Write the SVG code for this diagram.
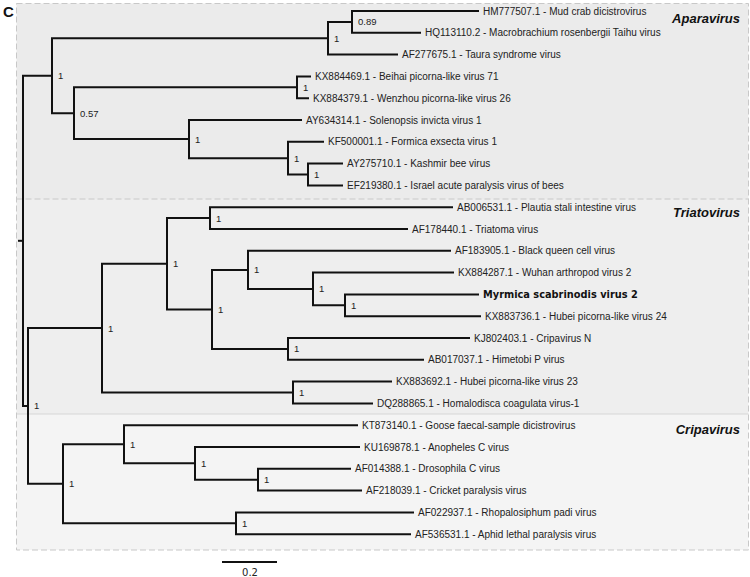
<svg xmlns="http://www.w3.org/2000/svg" width="750" height="577" viewBox="0 0 750 577">
<style>
.tip{font-family:"Liberation Sans",Arial,sans-serif;font-size:10px;fill:#222}
.bold{font-family:"DejaVu Sans",sans-serif;font-size:9.8px;font-weight:bold;fill:#111}
.sup{font-family:"Liberation Sans",Arial,sans-serif;font-size:9.5px;fill:#222}
.clade{font-family:"Liberation Sans",Arial,sans-serif;font-size:13px;font-weight:bold;font-style:italic;fill:#111;text-anchor:end}
.br{fill:none;stroke:#111;stroke-width:2;stroke-linecap:square;stroke-linejoin:miter}
</style>
<rect width="750" height="577" fill="#fff"/>
<g id="panels">
<rect x="16.5" y="3.5" width="732" height="195.5" fill="#ebebeb"/>
<rect x="16.5" y="199" width="732" height="215" fill="#eeeeee"/>
<rect x="16.5" y="414" width="732" height="136" fill="#f4f4f4"/>
<line x1="16.5" y1="199" x2="748.5" y2="199" stroke="#c8c8c8" stroke-dasharray="6 3"/>
<line x1="16.5" y1="414" x2="748.5" y2="414" stroke="#d6d6d6"/>
<rect x="16.5" y="3.5" width="732" height="546.5" fill="none" stroke="#c8c8c8" stroke-dasharray="6 3"/>
</g>
<text x="3" y="17" style="font-family:'Liberation Sans',Arial,sans-serif;font-size:15px;font-weight:bold;fill:#111">C</text>
<text class="clade" x="740" y="23">Aparavirus</text>
<text class="clade" x="740" y="217">Triatovirus</text>
<text class="clade" x="740" y="434">Cripavirus</text>
<g id="connectors" class="br">
<path class="br" d="M19 240.8 H23"/>
<path class="br" d="M52 75.7 H23 V405.95 H28"/>
<path class="br" d="M328 38.25 H52 V113.2 H74"/>
<path class="br" d="M352 21.9 H328 V54.6 H397"/>
<path class="br" d="M478 11 H352 V32.8 H420"/>
<path class="br" d="M297 87.3 H74 V139.1 H189"/>
<path class="br" d="M310 76.4 H297 V98.2 H308"/>
<path class="br" d="M301 120 H189 V158.15 H288"/>
<path class="br" d="M323 141.8 H288 V174.5 H308"/>
<path class="br" d="M342 163.6 H308 V185.4 H342"/>
<path class="br" d="M102 328.1 H28 V483.8 H63"/>
<path class="br" d="M167 263.75 H102 V392.5 H293"/>
<path class="br" d="M210 218.1 H167 V309.4 H212"/>
<path class="br" d="M452 207.2 H210 V229 H407"/>
<path class="br" d="M248 269.9 H212 V348.9 H288"/>
<path class="br" d="M450 250.8 H248 V288.95 H313"/>
<path class="br" d="M453 272.6 H313 V305.3 H345"/>
<path class="br" d="M478 294.4 H345 V316.2 H480"/>
<path class="br" d="M469 338 H288 V359.8 H423"/>
<path class="br" d="M391 381.6 H293 V403.4 H372"/>
<path class="br" d="M124 444.3 H63 V523.3 H236"/>
<path class="br" d="M357 425.2 H124 V463.35 H195"/>
<path class="br" d="M359 447 H195 V479.7 H258"/>
<path class="br" d="M350 468.8 H258 V490.6 H361"/>
<path class="br" d="M413 512.4 H236 V534.2 H410"/>
</g>
<g id="support">
<g id="n352"><text class="sup" x="358" y="25.4">0.89</text></g>
<g id="n328"><text class="sup" x="334" y="41.75">1</text></g>
<g id="n52"><text class="sup" x="58" y="79.2">1</text></g>
<g id="n74"><text class="sup" x="80" y="116.7">0.57</text></g>
<g id="n297"><text class="sup" x="303" y="90.8">1</text></g>
<g id="n189"><text class="sup" x="195" y="142.6">1</text></g>
<g id="n288a"><text class="sup" x="294" y="161.65">1</text></g>
<g id="n308"><text class="sup" x="314" y="178">1</text></g>
<g id="n210"><text class="sup" x="216" y="221.6">1</text></g>
<g id="n167"><text class="sup" x="173" y="267.25">1</text></g>
<g id="n248"><text class="sup" x="254" y="273.4">1</text></g>
<g id="n313"><text class="sup" x="319" y="292.45">1</text></g>
<g id="n345"><text class="sup" x="351" y="308.8">1</text></g>
<g id="n212"><text class="sup" x="218" y="312.9">1</text></g>
<g id="n288b"><text class="sup" x="294" y="352.4">1</text></g>
<g id="n102"><text class="sup" x="108" y="331.6">1</text></g>
<g id="n293"><text class="sup" x="299" y="396">1</text></g>
<g id="n28"><text class="sup" x="34" y="409.45">1</text></g>
<g id="n124"><text class="sup" x="130" y="447.8">1</text></g>
<g id="n195"><text class="sup" x="201" y="466.85">1</text></g>
<g id="n258"><text class="sup" x="264" y="483.2">1</text></g>
<g id="n63"><text class="sup" x="69" y="487.3">1</text></g>
<g id="n236"><text class="sup" x="242" y="526.8">1</text></g>
</g>
<g id="tips">
<g id="t0"><text class="tip" x="483" y="14.5">HM777507.1 - Mud crab dicistrovirus</text></g>
<g id="t1"><text class="tip" x="425" y="36.3">HQ113110.2 - Macrobrachium rosenbergii Taihu virus</text></g>
<g id="t2"><text class="tip" x="402" y="58.1">AF277675.1 - Taura syndrome virus</text></g>
<g id="t3"><text class="tip" x="315" y="79.9">KX884469.1 - Beihai picorna-like virus 71</text></g>
<g id="t4"><text class="tip" x="313" y="101.7">KX884379.1 - Wenzhou picorna-like virus 26</text></g>
<g id="t5"><text class="tip" x="306" y="123.5">AY634314.1 - Solenopsis invicta virus 1</text></g>
<g id="t6"><text class="tip" x="328" y="145.3">KF500001.1 - Formica exsecta virus 1</text></g>
<g id="t7"><text class="tip" x="347" y="167.1">AY275710.1 - Kashmir bee virus</text></g>
<g id="t8"><text class="tip" x="347" y="188.9">EF219380.1 - Israel acute paralysis virus of bees</text></g>
<g id="t9"><text class="tip" x="457" y="210.7">AB006531.1 - Plautia stali intestine virus</text></g>
<g id="t10"><text class="tip" x="412" y="232.5">AF178440.1 - Triatoma virus</text></g>
<g id="t11"><text class="tip" x="455" y="254.3">AF183905.1 - Black queen cell virus</text></g>
<g id="t12"><text class="tip" x="458" y="276.1">KX884287.1 - Wuhan arthropod virus 2</text></g>
<g id="t13"><text class="bold" x="483" y="297.9">Myrmica scabrinodis virus 2</text></g>
<g id="t14"><text class="tip" x="485" y="319.7">KX883736.1 - Hubei picorna-like virus 24</text></g>
<g id="t15"><text class="tip" x="474" y="341.5">KJ802403.1 - Cripavirus N</text></g>
<g id="t16"><text class="tip" x="428" y="363.3">AB017037.1 - Himetobi P virus</text></g>
<g id="t17"><text class="tip" x="396" y="385.1">KX883692.1 - Hubei picorna-like virus 23</text></g>
<g id="t18"><text class="tip" x="377" y="406.9">DQ288865.1 - Homalodisca coagulata virus-1</text></g>
<g id="t19"><text class="tip" x="362" y="428.7">KT873140.1 - Goose faecal-sample dicistrovirus</text></g>
<g id="t20"><text class="tip" x="364" y="450.5">KU169878.1 - Anopheles C virus</text></g>
<g id="t21"><text class="tip" x="355" y="472.3">AF014388.1 - Drosophila C virus</text></g>
<g id="t22"><text class="tip" x="366" y="494.1">AF218039.1 - Cricket paralysis virus</text></g>
<g id="t23"><text class="tip" x="418" y="515.9">AF022937.1 - Rhopalosiphum padi virus</text></g>
<g id="t24"><text class="tip" x="415" y="537.7">AF536531.1 - Aphid lethal paralysis virus</text></g>
</g>
<g id="scale">
<line x1="222" y1="562" x2="277" y2="562" stroke="#111" stroke-width="2"/>
<text x="250" y="576" text-anchor="middle" style="font-family:'DejaVu Sans',sans-serif;font-size:10px;fill:#222">0.2</text>
</g>
</svg>
